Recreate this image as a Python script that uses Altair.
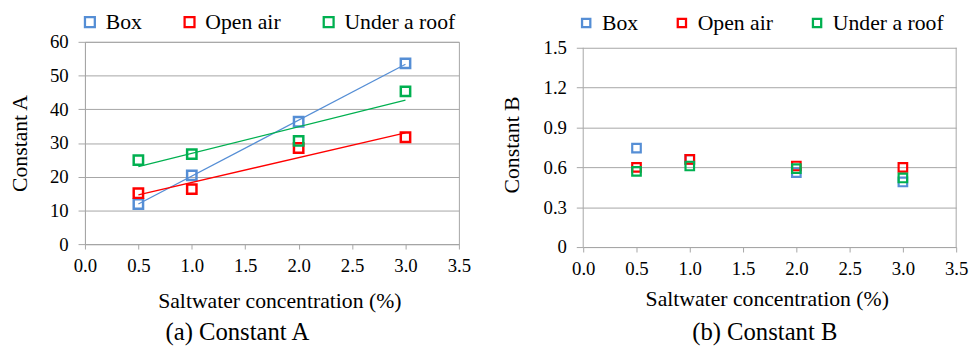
import altair as alt
import pandas as pd

# ---- data ----
conc = [0.5, 1.0, 2.0, 3.0]
series_names = ["Box", "Open air", "Under a roof"]
series_colors = ["#558ED5", "#FF0000", "#00B050"]

a_box = [11.9, 20.4, 36.3, 53.6]
a_open = [15.1, 16.3, 28.5, 31.7]
a_roof = [24.9, 26.7, 30.6, 45.3]

b_box = [0.745, 0.66, 0.56, 0.49]
b_open = [0.60, 0.66, 0.61, 0.60]
b_roof = [0.57, 0.61, 0.59, 0.52]

x_ticks = [0.0, 0.5, 1.0, 1.5, 2.0, 2.5, 3.0, 3.5]
a_ticks = [0, 10, 20, 30, 40, 50, 60]
b_ticks = [0, 0.3, 0.6, 0.9, 1.2, 1.5]


def table(vals):
    rows = []
    for name, ys in zip(series_names, vals):
        for x, y in zip(conc, ys):
            rows.append({"x": x, "y": y, "series": name})
    return pd.DataFrame(rows)


dfA = table([a_box, a_open, a_roof])
dfB = table([b_box, b_open, b_roof])

FONT = "Liberation Serif"
GRID = "#a6a6a6"

color_scale = alt.Scale(domain=series_names, range=series_colors)


def x_axis(title_pad, title_x):
    return alt.Axis(
        values=x_ticks, format=".1f", grid=False, title="Saltwater concentration (%)",
        labelFont=FONT, labelFontSize=19, labelColor="black", labelPadding=8, labelFlush=False,
        titleFont=FONT, titleFontSize=22, titleFontWeight="normal", titleColor="black",
        titlePadding=title_pad, titleX=title_x, tickSize=5, tickColor=GRID, domainColor=GRID,
    )


def legend(lx, ly, sym, pad):
    return alt.Legend(
        title=None, orient="none", legendX=lx, legendY=ly, direction="horizontal",
        columnPadding=pad, labelFont=FONT, labelFontSize=22, labelColor="black",
        labelOffset=5, symbolType="square", symbolSize=sym, symbolStrokeWidth=2.3,
    )


# ---------- panel (a) ----------
xA = alt.X("x:Q", scale=alt.Scale(domain=[0, 3.5], nice=False), axis=x_axis(15, 197))
yA = alt.Y("y:Q", scale=alt.Scale(domain=[0, 60], nice=False),
           axis=alt.Axis(values=a_ticks, format="d", title="Constant A",
                         labelFont=FONT, labelFontSize=19, labelColor="black", labelPadding=10,
                         titleFont=FONT, titleFontSize=22, titleFontWeight="normal",
                         titleColor="black", titlePadding=18, tickSize=7, tickColor=GRID,
                         domainColor=GRID, gridColor=GRID))
cA = alt.Color("series:N", scale=color_scale, legend=legend(-6, -31, 100, 37))

baseA = alt.Chart(dfA)
ptsA = baseA.mark_point(shape="square", filled=False, size=90, strokeWidth=2.5, opacity=1).encode(
    x=xA, y=yA, color=cA,
)
lineA = baseA.transform_regression("x", "y", groupby=["series"]).mark_line(strokeWidth=1.3).encode(
    x=xA, y=yA, color=cA,
)
left = alt.layer(ptsA, lineA).properties(
    width=379, height=205,
    view=alt.ViewBackground(stroke=GRID),
    title=alt.TitleParams(text="(a) Constant A", orient="bottom", frame="group", dx=-35,
                          offset=9, font=FONT, fontSize=25, fontWeight="normal", color="black"),
)

# ---------- panel (b) ----------
B_TOP = 1.5 * 208 / 202
xB = alt.X("x:Q", scale=alt.Scale(domain=[0, 3.5], nice=False), axis=x_axis(10, 186))
yB = alt.Y("y:Q", scale=alt.Scale(domain=[0, B_TOP], nice=False),
           axis=alt.Axis(values=b_ticks, title="Constant B",
                         labelExpr="datum.value == 0 ? '0' : format(datum.value, '.1f')",
                         labelFont=FONT, labelFontSize=19, labelColor="black", labelPadding=10,
                         titleFont=FONT, titleFontSize=22, titleFontWeight="normal",
                         titleColor="black", titlePadding=20, tickSize=7, tickColor=GRID,
                         domain=False, gridColor=GRID))
cB = alt.Color("series:N", scale=color_scale, legend=legend(-8, -30, 70, 33))

baseB = alt.Chart(dfB)
ptsB = baseB.mark_point(shape="square", filled=False, size=75, strokeWidth=2.2, opacity=1).encode(
    x=xB, y=yB, color=cB,
)
border_df = pd.DataFrame({"x": [0.0, 3.5], "y": [0.0, 0.0], "y1": [1.5, 1.5]})
borderB = alt.Chart(border_df).mark_rule(color=GRID, strokeWidth=1).encode(
    x=xB, y=yB, y2="y1:Q",
)
right = alt.layer(ptsB, borderB).properties(
    width=378, height=208,
    view=alt.ViewBackground(stroke="transparent"),
    title=alt.TitleParams(text="(b) Constant B", orient="bottom", frame="group", dx=-5,
                          offset=11, font=FONT, fontSize=25, fontWeight="normal", color="black"),
)

chart = alt.hconcat(left, right, spacing=28).resolve_scale(color="independent").properties(
    padding={"left": 0, "top": 0, "right": 0, "bottom": 0},
).configure(background="white").configure_axis(
    gridWidth=1, domainWidth=1, tickWidth=1
)

chart.save("out.html", embed_options={"renderer": "svg", "actions": False})
